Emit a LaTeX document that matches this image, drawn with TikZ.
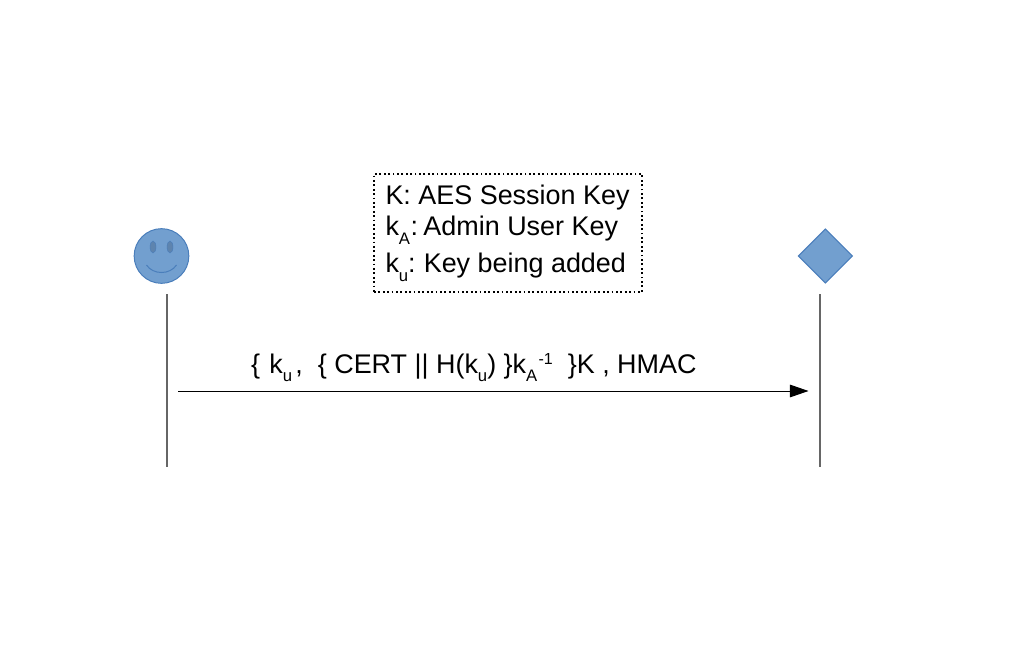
\documentclass[tikz,border=0pt]{standalone}
\usepackage{fontspec}
\setmainfont{Liberation Sans}
\usetikzlibrary{shapes.geometric,arrows.meta}
\newcommand{\lowered}[1]{\raisebox{-0.33em}{\fontsize{12.5pt}{12.5pt}\selectfont #1}}
\newcommand{\raised}[1]{\raisebox{0.3em}{\fontsize{12pt}{12pt}\selectfont #1}}
\definecolor{actorfill}{HTML}{729FCF}
\definecolor{actorline}{HTML}{4A7EBB}
\definecolor{eyefill}{HTML}{5E84AE}
\tikzset{
  x=0.75pt,y=-0.75pt,
  every node/.style={inner sep=0pt,outer sep=0pt},
  label text/.style={anchor=base west,font=\fontsize{20.2pt}{20.2pt}\selectfont},
  lifeline/.style={draw=black!60!white,line width=0.9pt},
  message/.style={draw=black,line width=0.75pt,-{Triangle[length=14pt,width=9.5pt]}},
  legend box/.style={draw=black,line width=1.3pt,dotted,rectangle},
  actor shape/.style={draw=actorline,fill=actorfill,line width=0.75pt}
}
\begin{document}
\begin{tikzpicture}
\useasboundingbox (0,0) rectangle (1011,656);
\node[actor shape,circle,minimum size=41pt] (user) at (161.5,256) {};
\node[draw=actorline,fill=eyefill,ellipse,minimum width=4.5pt,minimum height=9pt,line width=0.3pt] (eyeL) at (153,247) {};
\node[draw=actorline,fill=eyefill,ellipse,minimum width=4.5pt,minimum height=9pt,line width=0.3pt] (eyeR) at (170,247) {};
\draw[draw=actorline,line width=0.75pt] (146.5,265) .. controls (153,275) and (170,275) .. (176.5,265);
\node[actor shape,diamond,minimum width=40.5pt,minimum height=40.5pt,shape aspect=1] (server) at (825.3,256) {};
\node[legend box,minimum width=201pt,minimum height=88.5pt] (legend) at (508,233) {};
\node[label text] (l1) at (385.5,204.5) {K: AES Session Key};
\node[label text] (l2) at (385.5,236) {k\lowered{A}\hspace{0.02em}:\hspace{0.2em}Admin User Key};
\node[label text] (l3) at (385.5,272.5) {k\lowered{u}:\hspace{0.3em}Key being added};
\coordinate (u1) at (167,294);
\coordinate (u2) at (167,467);
\coordinate (s1) at (820,294);
\coordinate (s2) at (820,467);
\draw[lifeline] (u1) -- (u2);
\draw[lifeline] (s1) -- (s2);
\coordinate (m1) at (178,391);
\coordinate (m2) at (808.5,391);
\draw[message] (m1) -- (m2);
\node[label text] (msg) at (251,373) {\{\hspace{0.35em}k\lowered{u}\hspace{0.12em}, \ \{ CERT || H(k\lowered{u}) \}k\lowered{A}\hspace{0.05em}\raised{-1}\ \ \}K , HMAC};
\end{tikzpicture}
\end{document}
